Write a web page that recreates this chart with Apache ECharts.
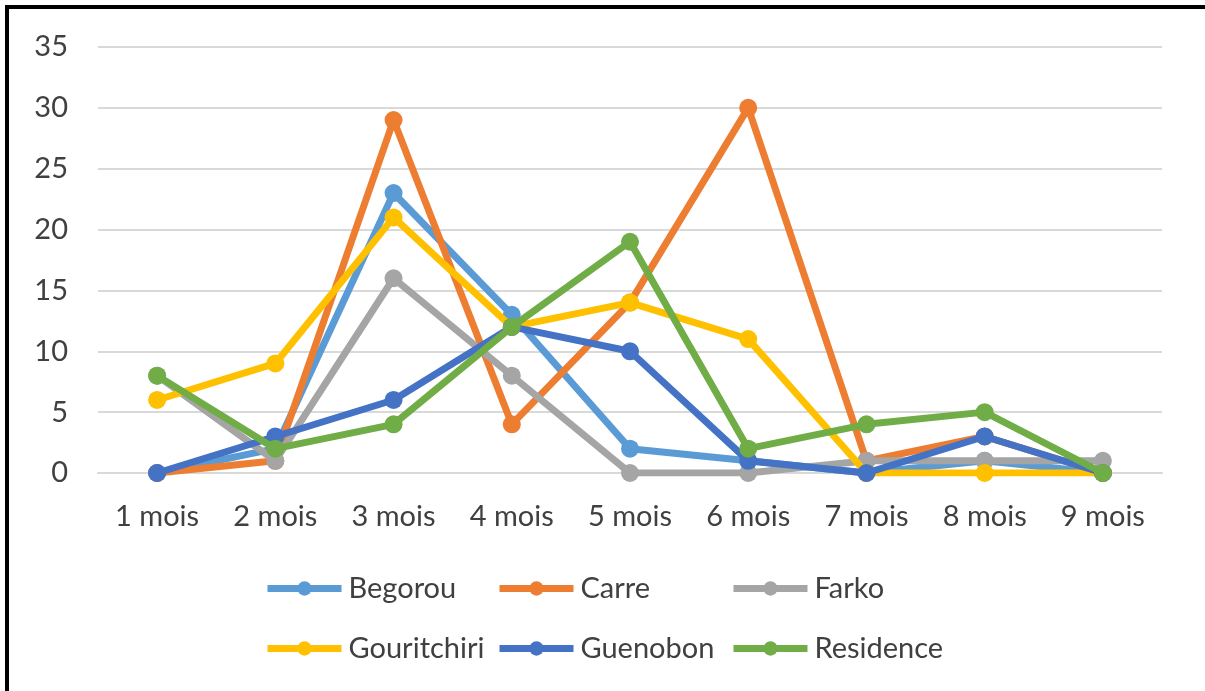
<!DOCTYPE html>
<html>
<head>
<meta charset="utf-8">
<script src="https://cdn.jsdelivr.net/npm/echarts@6/dist/echarts.min.js"></script>
<style>
  html, body { margin: 0; padding: 0; background: #fff; }
  #chart { width: 1205px; height: 691px; }
</style>
</head>
<body>
<div id="chart"></div>
<script>
  // months on the x axis
  var months = ['1 mois', '2 mois', '3 mois', '4 mois', '5 mois', '6 mois', '7 mois', '8 mois', '9 mois'];

  // one array per site
  var begorou     = [0, 2, 23, 13, 2, 1, 0, 1, 0];
  var carre       = [0, 1, 29, 4, 14, 30, 1, 3, 0];
  var farko       = [8, 1, 16, 8, 0, 0, 1, 1, 1];
  var gouritchiri = [6, 9, 21, 12, 14, 11, 0, 0, 0];
  var guenobon    = [0, 3, 6, 12, 10, 1, 0, 3, 0];
  var residence   = [8, 2, 4, 12, 19, 2, 4, 5, 0];

  var names  = ['Begorou', 'Carre', 'Farko', 'Gouritchiri', 'Guenobon', 'Residence'];
  var values = [begorou, carre, farko, gouritchiri, guenobon, residence];
  var colors = ['#5B9BD5', '#ED7D31', '#A5A5A5', '#FFC000', '#4472C4', '#70AD47'];

  var FONT = 'Lato';
  var TEXT = '#404040';

  var series = names.map(function (name, i) {
    return {
      name: name,
      type: 'line',
      data: values[i],
      color: colors[i],
      symbol: 'circle',
      symbolSize: 18,
      lineStyle: { width: 7, color: colors[i] },
      itemStyle: { color: colors[i] },
      emphasis: { disabled: true },
      z: 2 + i
    };
  });

  // legend laid out as a 3 x 2 table, like the original
  var legendCols = [264, 496, 730]
    , legendRows = [574, 634];

  var legends = names.map(function (name, i) {
    return {
      data: [name],
      left: legendCols[i % 3],
      top: legendRows[Math.floor(i / 3)],
      padding: 0,
      itemWidth: 74,
      itemHeight: 18,
      itemStyle: { borderWidth: 0 },
      lineStyle: { width: 7 },
      textStyle: { fontFamily: FONT, fontSize: 29, color: TEXT, padding: [0, 0, 0, 2] },
      selectedMode: false
    };
  });

  var chart = echarts.init(document.getElementById('chart'), null, { renderer: 'canvas' });

  chart.setOption({
    backgroundColor: '#ffffff',
    animation: false,
    grid: { left: 98, right: 43, top: 47, bottom: 218, containLabel: false },
    legend: legends,
    xAxis: {
      type: 'category',
      data: months,
      boundaryGap: true,
      axisLine: { show: true, lineStyle: { color: '#d9d9d9', width: 2 } },
      axisTick: { show: false },
      axisLabel: { fontFamily: FONT, fontSize: 29, color: TEXT, margin: 29 }
    },
    yAxis: {
      type: 'value',
      min: 0,
      max: 35,
      interval: 5,
      axisLine: { show: false },
      axisTick: { show: false },
      axisLabel: { fontFamily: FONT, fontSize: 29, color: TEXT, margin: 30 },
      splitLine: { lineStyle: { color: '#d9d9d9', width: 2 } }
    },
    series: series,
    graphic: [
      { type: 'rect', shape: { x: 5, y: 5, width: 4, height: 686 }, style: { fill: '#000' } },
      { type: 'rect', shape: { x: 5, y: 5, width: 1200, height: 4 }, style: { fill: '#000' } }
    ]
  });
</script>
</body>
</html>
